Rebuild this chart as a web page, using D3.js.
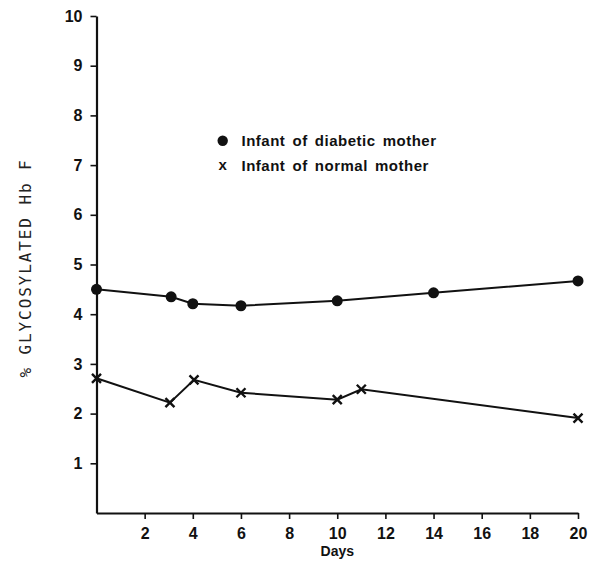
<!DOCTYPE html>
<html>
<head>
<meta charset="utf-8">
<script src="https://cdn.jsdelivr.net/npm/d3@7"></script>
<style>
  html, body { margin: 0; padding: 0; background: #fff; }
  svg { display: block; }
</style>
</head>
<body>
<svg id="chart" width="595" height="561"></svg>
<script>
// ---- data ----
const diabeticDays = [0, 3.1, 4, 6, 10, 14, 20];
const diabeticVals = [4.5, 4.35, 4.21, 4.17, 4.27, 4.43, 4.67];
const normalDays = [0, 3.05, 4.05, 6, 10, 11, 20];
const normalVals = [2.71, 2.22, 2.68, 2.42, 2.28, 2.49, 1.91];
const xTicks = [2, 4, 6, 8, 10, 12, 14, 16, 18, 20];
const yTicks = [1, 2, 3, 4, 5, 6, 7, 8, 9, 10];
const legendLabels = ["Infant of diabetic mother", "Infant of normal mother"];
const xTitle = "Days";
const yTitle = "% GLYCOSYLATED Hb F";

const svg = d3.select("#chart");
const x = d3.scaleLinear().domain([0, 20]).range([96.5, 578]);
const y = d3.scaleLinear().domain([0, 10]).range([513, 16]);
const ink = "#111";
const boldFont = "'Liberation Sans', Arial, sans-serif";

// axes
const yAxis = svg.append("g")
  .attr("transform", `translate(${x(0)},0)`)
  .call(d3.axisLeft(y).tickValues(yTicks).tickSize(6).tickSizeOuter(0).tickPadding(8).tickFormat(d3.format("d")));
const xAxis = svg.append("g")
  .attr("transform", `translate(0,${y(0)})`)
  .call(d3.axisBottom(x).tickValues(xTicks).tickSize(6).tickSizeOuter(0).tickPadding(9).tickFormat(d3.format("d")));

[yAxis, xAxis].forEach(g => {
  g.select(".domain").attr("stroke", ink).attr("stroke-width", 2.2);
  g.selectAll(".tick line").attr("stroke", ink).attr("stroke-width", 1.6);
  g.selectAll(".tick text").attr("fill", ink)
    .style("font-family", boldFont).style("font-weight", "bold").style("font-size", "16px");
});

// lines
const lineD = d3.line().x(d => x(d[0])).y(d => y(d[1]));
const diabetic = diabeticDays.map((d, i) => [d, diabeticVals[i]]);
const normal = normalDays.map((d, i) => [d, normalVals[i]]);

svg.append("path").datum(diabetic).attr("d", lineD)
  .attr("fill", "none").attr("stroke", ink).attr("stroke-width", 2);
svg.append("path").datum(normal).attr("d", lineD)
  .attr("fill", "none").attr("stroke", ink).attr("stroke-width", 2);

svg.selectAll("circle.pt").data(diabetic).enter().append("circle")
  .attr("class", "pt")
  .attr("cx", d => x(d[0])).attr("cy", d => y(d[1])).attr("r", 5.5)
  .attr("fill", ink);

const s = 4.5;
svg.selectAll("path.xm").data(normal).enter().append("path")
  .attr("class", "xm")
  .attr("d", d => {
    const cx = x(d[0]), cy = y(d[1]);
    return `M${cx - s},${cy - s}L${cx + s},${cy + s}M${cx - s},${cy + s}L${cx + s},${cy - s}`;
  })
  .attr("stroke", ink).attr("stroke-width", 2.4).attr("fill", "none");

// legend
const leg = svg.append("g");
leg.append("circle").attr("cx", 222.7).attr("cy", 140.7).attr("r", 5.2).attr("fill", ink);
leg.append("text").attr("x", 222.7).attr("y", 165).attr("dy", "0.32em")
  .attr("text-anchor", "middle").attr("fill", ink)
  .style("font-family", boldFont).style("font-weight", "bold").style("font-size", "15px").text("x");
legendLabels.forEach((t, i) => {
  leg.append("text").attr("x", 241.5).attr("y", 140.7 + i * 24.5).attr("dy", "0.36em")
    .attr("fill", ink)
    .style("font-family", boldFont).style("font-weight", "bold").style("font-size", "15px")
    .style("letter-spacing", "0.5px").style("word-spacing", "2.5px")
    .text(t);
});

// axis titles
svg.append("text").attr("x", x(10)).attr("y", 556).attr("text-anchor", "middle")
  .attr("fill", ink)
  .style("font-family", boldFont).style("font-weight", "bold").style("font-size", "14px")
  .text(xTitle);

svg.append("text")
  .attr("transform", "translate(25,268) rotate(-90)")
  .attr("text-anchor", "middle").attr("dy", "0.36em")
  .attr("fill", "#222")
  .style("font-family", "'DejaVu Sans Mono', monospace").style("font-size", "16px")
  .style("letter-spacing", "1.9px")
  .text(yTitle);
</script>
</body>
</html>
